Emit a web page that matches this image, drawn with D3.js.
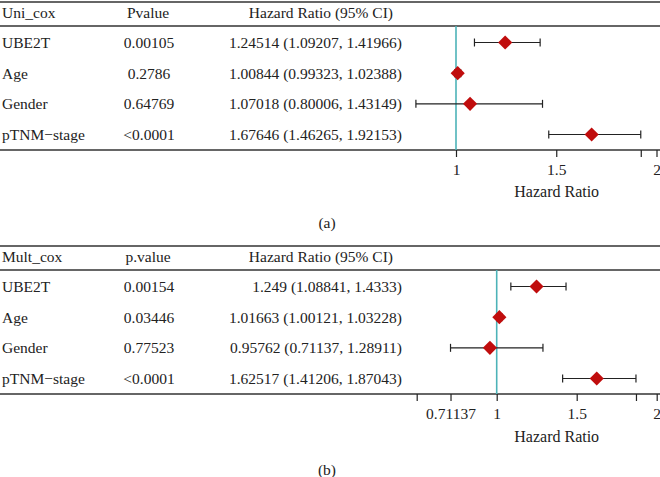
<!DOCTYPE html>
<html><head><meta charset="utf-8">
<script src="https://cdn.jsdelivr.net/npm/d3@7"></script>
<style>body{margin:0;background:#fff}svg{display:block}text{font-family:"Liberation Serif","DejaVu Serif",serif;fill:#222}</style>
</head><body><svg id="c" width="660" height="477"></svg>
<script>
const variables = ["UBE2T","Age","Gender","pTNM\u2212stage"];
// panel a: univariate
const uniP = ["0.00105","0.2786","0.64769","<0.0001"];
const uniHR = [1.24514,1.00844,1.07018,1.67646];
const uniLo = [1.09207,0.99323,0.80006,1.46265];
const uniHi = [1.41966,1.02388,1.43149,1.92153];
const uniTicks = [1,1.5,1.92153,2];
const uniTickLabels = ["1","1.5","","2"];
// panel b: multivariate
const multP = ["0.00154","0.03446","0.77523","<0.0001"];
const multHR = [1.249,1.01663,0.95762,1.62517];
const multLo = [1.08841,1.00121,0.71137,1.41206];
const multHi = [1.4333,1.03228,1.28911,1.87043];
const multTicks = [0.5,0.71137,1,1.5,1.87043,2];
const multTickLabels = ["","0.71137","1","1.5","","2"];
const multHRText = ["1.249 (1.08841, 1.4333)","1.01663 (1.00121, 1.03228)","0.95762 (0.71137, 1.28911)","1.62517 (1.41206, 1.87043)"];

const svg = d3.select("#c");
const FS = 15.5;
const fmtHR = (h,l,u)=>`${h} (${l}, ${u})`;

function panel(o){
  const g = svg.append("g").attr("transform",`translate(0,${o.y0})`);
  const rowY = d3.scalePoint().domain(variables).range([40.5,132.5]);
  const x = d3.scaleLinear().domain([1,2]).range(o.xr);
  const top=0, hdr=24, bot=148;
  const line=(y)=>g.append("line").attr("x1",0).attr("x2",660).attr("y1",y).attr("y2",y).attr("stroke","#333").attr("stroke-width",1.4);
  line(top); line(hdr); line(bot);
  g.append("text").attr("x",2).attr("y",11).attr("dy","0.35em").attr("font-size",FS).text(o.title);
  g.append("text").attr("x",148).attr("y",11).attr("dy","0.35em").attr("text-anchor","middle").attr("font-size",FS).text(o.pTitle);
  g.append("text").attr("x",393).attr("y",11).attr("dy","0.35em").attr("text-anchor","end").attr("font-size",FS).text("Hazard Ratio (95% CI)");
  variables.forEach((v,i)=>{
    const y=rowY(v);
    g.append("text").attr("x",2).attr("y",y).attr("dy","0.35em").attr("font-size",FS).text(v);
    g.append("text").attr("x",149).attr("y",y).attr("dy","0.35em").attr("text-anchor","middle").attr("font-size",FS).text(o.p[i]);
    g.append("text").attr("x",402).attr("y",y).attr("dy","0.35em").attr("text-anchor","end").attr("font-size",FS).text(o.hrText[i]);
  });
  // reference line
  g.append("line").attr("x1",x(1)).attr("x2",x(1)).attr("y1",hdr).attr("y2",bot).attr("stroke","#4db3b8").attr("stroke-width",1.6);
  // CIs
  variables.forEach((v,i)=>{
    const y=rowY(v);
    g.append("line").attr("x1",x(o.lo[i])).attr("x2",x(o.hi[i])).attr("y1",y).attr("y2",y).attr("stroke","#222").attr("stroke-width",1.2);
    [o.lo[i],o.hi[i]].forEach(b=>g.append("line").attr("x1",x(b)).attr("x2",x(b)).attr("y1",y-4).attr("y2",y+4).attr("stroke","#222").attr("stroke-width",1.2));
    g.append("path").attr("d",d3.symbol(d3.symbolSquare,100)()).attr("transform",`translate(${x(o.hr[i])},${y}) rotate(45)`).attr("fill","#c00d0d");
  });
  // axis
  const ax = d3.axisBottom(x).tickValues(o.ticks).tickFormat((d,i)=>o.tickLabels[i]).tickSize(7).tickPadding(7);
  const a = g.append("g").attr("transform",`translate(0,${bot})`).call(ax);
  a.select(".domain").remove();
  a.selectAll(".tick line").attr("stroke","#222").attr("stroke-width",1.2);
  a.selectAll(".tick text").attr("font-size",FS).attr("font-family","Liberation Serif, serif").attr("fill","#222");
  g.append("text").attr("x",556.7).attr("y",o.hrLabY).attr("dy","0.35em").attr("text-anchor","middle").attr("font-size",FS+0.5).text("Hazard Ratio");
  g.append("text").attr("x",327).attr("y",o.capY).attr("dy","0.35em").attr("text-anchor","middle").attr("font-size",FS).text(o.cap);
}

panel({y0:2,title:"Uni_cox",pTitle:"Pvalue",p:uniP,hr:uniHR,lo:uniLo,hi:uniHi,
  hrText:uniHR.map((h,i)=>fmtHR(h,uniLo[i],uniHi[i])),xr:[456,656.5],
  ticks:uniTicks,tickLabels:uniTickLabels,hrLabY:189.5,capY:221,cap:"(a)"});
panel({y0:246,title:"Mult_cox",pTitle:"p.value",p:multP,hr:multHR,lo:multLo,hi:multHi,
  hrText:multHRText,xr:[496.7,656.7],
  ticks:multTicks,tickLabels:multTickLabels,hrLabY:190.5,capY:224,cap:"(b)"});
</script></body></html>
